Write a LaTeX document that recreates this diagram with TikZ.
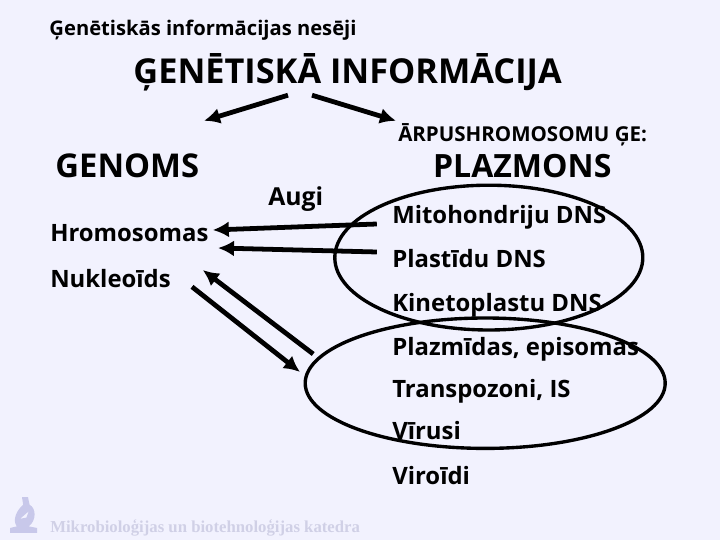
\documentclass[tikz,border=0pt]{standalone}
\usepackage{fontspec}
\setmainfont{Open Sans}
\newfontfamily\footfont{Liberation Serif}
\usetikzlibrary{arrows.meta}
\definecolor{fonscolor}{HTML}{F2F2FE}
\definecolor{logocolor}{HTML}{C8C8EA}
\definecolor{footcolor}{HTML}{D0D0E6}
\tikzset{
  uzraksts/.style={anchor=base west, inner sep=0pt, font=\fontsize{#1}{#1}\selectfont\bfseries},
  bulta/.style={line width=3.4pt, -{Latex[length=0.4cm,width=0.4cm]}},
  aplis/.style={draw, line width=2.4pt}
}
\begin{document}
\begin{tikzpicture}
\fill[fonscolor] (0, 0) rectangle (18, 13.5);
\useasboundingbox (0, 0) rectangle (18, 13.5);
% virsraksti
\node[uzraksts=14.35] (nesejvirsraksts) at (1.23, 12.62) {Ģenētiskās informācijas nesēji};
\node[uzraksts=24.4] (informacija) at (3.33, 11.42) {ĢENĒTISKĀ INFORMĀCIJA};
% genoms
\node[uzraksts=23.3] (genoms) at (1.38, 9.05) {GENOMS};
\node[uzraksts=17.6] (augi) at (6.7, 8.35) {Augi};
\node[uzraksts=17] (hromosomas) at (1.25, 7.45) {Hromosomas};
\node[uzraksts=17] (nukleoidi) at (1.25, 6.32) {Nukleoīds};
% plazmons
\node[uzraksts=14.6] (arpus) at (9.95, 9.95) {ĀRPUSHROMOSOMU ĢE:};
\node[uzraksts=22.8] (plazmons) at (10.82, 9.05) {PLAZMONS};
\node[uzraksts=17] (mitohondriji) at (9.8, 7.9) {Mitohondriju DNS};
\node[uzraksts=17] (plastidas) at (9.8, 6.8) {Plastīdu DNS};
\node[uzraksts=17] (kinetoplasti) at (9.8, 5.7) {Kinetoplastu DNS};
\node[uzraksts=17] (plazmidas) at (9.8, 4.62) {Plazmīdas, episomas};
\node[uzraksts=17] (transpozoni) at (9.8, 3.57) {Transpozoni, IS};
\node[uzraksts=17] (virusi) at (9.8, 2.5) {Vīrusi};
\node[uzraksts=17] (viroidi) at (9.8, 1.4) {Viroīdi};
% apli
\draw[aplis] (12.22, 7.06) ellipse (3.85 and 1.81);
\draw[aplis] (12.13, 3.92) ellipse (4.5 and 1.63);
% bultu gali
\coordinate (sakumsK) at (7.2, 11.12);
\coordinate (beigasK) at (5.1, 10.48);
\coordinate (sakumsL) at (7.8, 11.12);
\coordinate (beigasL) at (9.9, 10.48);
\coordinate (mitoS) at (9.42, 7.9);
\coordinate (hromoB) at (5.32, 7.75);
\coordinate (plastS) at (9.42, 7.2);
\coordinate (hromoA) at (5.45, 7.3);
\coordinate (plazmS) at (7.83, 4.65);
\coordinate (nukleoB) at (5.07, 6.75);
\coordinate (nukleoS) at (4.8, 6.33);
\coordinate (plazmB) at (7.5, 4.2);
% bultas
\draw[bulta] (sakumsK) -- (beigasK);
\draw[bulta] (sakumsL) -- (beigasL);
\draw[bulta] (mitoS) -- (hromoB);
\draw[bulta] (plastS) -- (hromoA);
\draw[bulta] (plazmS) -- (nukleoB);
\draw[bulta] (nukleoS) -- (plazmB);
% logo
\fill[logocolor, even odd rule] (0.25, 0.18) -- (0.93, 0.18) -- (0.93, 0.3) -- (0.72, 0.34)
  .. controls (0.92, 0.5) and (0.9, 0.8) .. (0.74, 0.88) -- (0.7, 1.07) -- (0.55, 1.07)
  -- (0.58, 0.88) .. controls (0.42, 0.75) and (0.3, 0.5) .. (0.42, 0.34) -- (0.25, 0.3) -- cycle
  (0.5, 0.53) -- (0.72, 0.72) -- (0.66, 0.56) -- cycle;
\node[anchor=base west, inner sep=0pt, text=footcolor, font=\fontsize{11.9}{11.9}\selectfont\footfont\bfseries] (katedra) at (1.25, 0.2) {Mikrobioloģijas un biotehnoloģijas katedra};
\end{tikzpicture}
\end{document}
